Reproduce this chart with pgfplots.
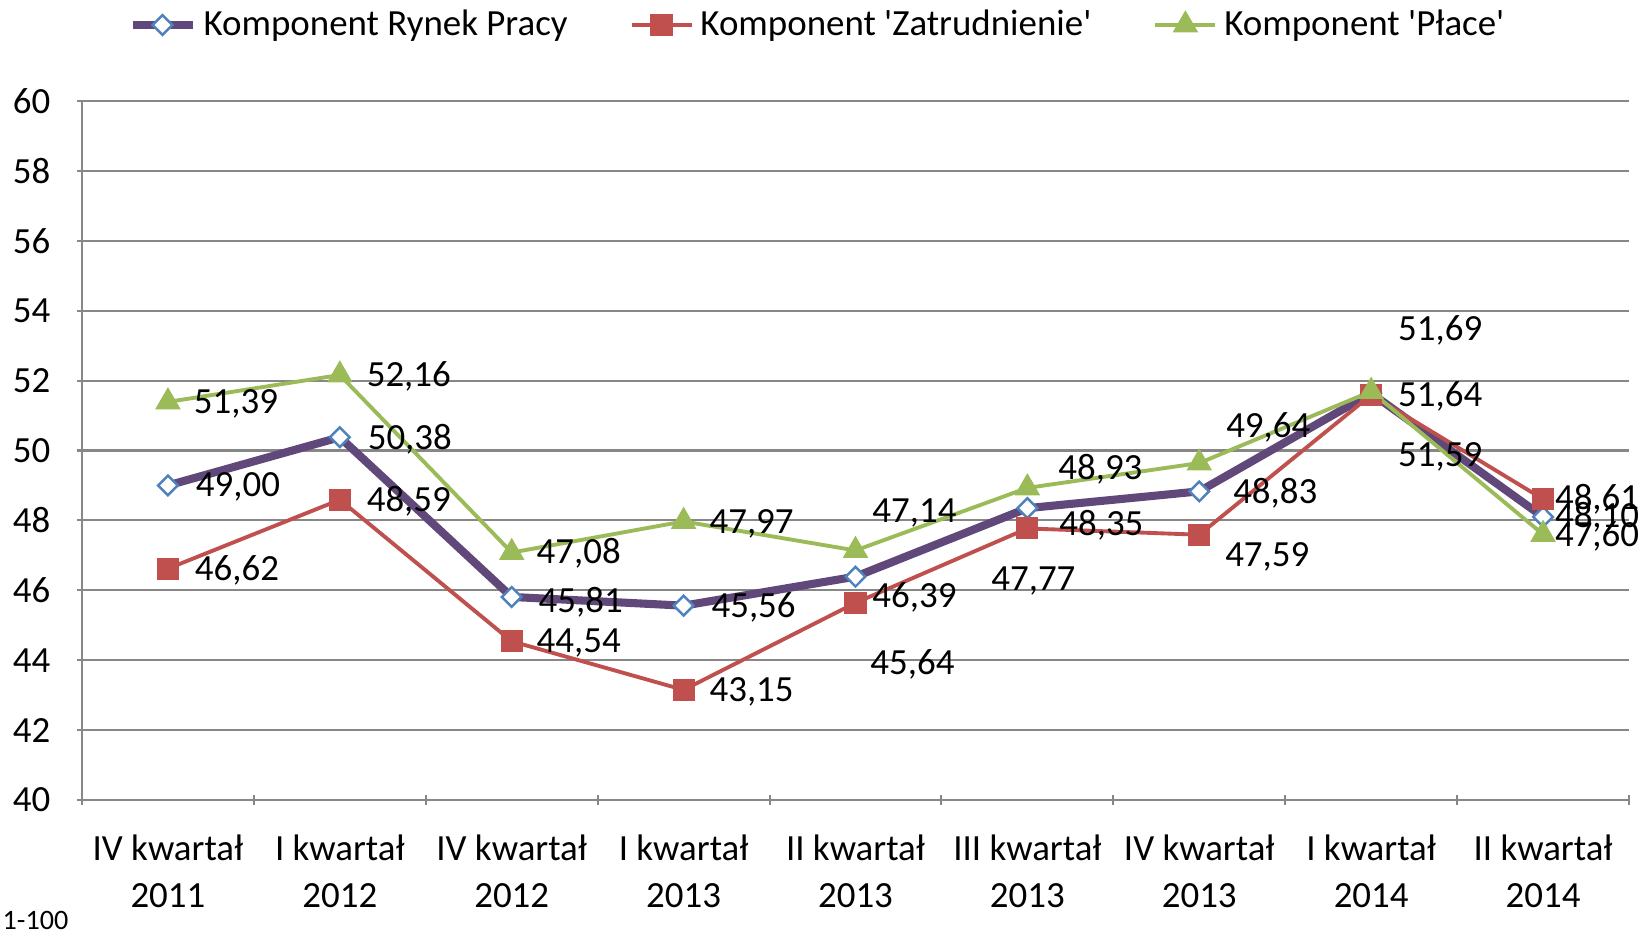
\documentclass[border=0pt]{standalone}
\usepackage{fontspec}
\setmainfont{Carlito}
\usepackage{pgfplots}
\usepackage{pgfplotstable}
\pgfplotsset{compat=1.18}
\definecolor{rynek}{HTML}{60497A}
\definecolor{diamblue}{HTML}{4F81BD}
\definecolor{zatr}{HTML}{C0504D}
\definecolor{place}{HTML}{9BBB59}
\definecolor{gridgray}{HTML}{878787}

% x  y  label offsets (cm)  label
\pgfplotstableread{
x y dx dy lbl
0 49.00 0.70 -0.01 49,00
1 50.38 0.70 -0.02 50,38
2 45.81 0.69 -0.05 45,81
3 45.56 0.70 -0.02 45,56
4 46.39 0.59 -0.21 46,39
5 48.35 0.74 -0.17 48,35
6 48.83 0.76 -0.02 48,83
7 51.64 0.69 -0.03 51,64
8 48.10 0.54 0.00 48,10
}\tabRynek

\pgfplotstableread{
x y dx dy lbl
0 46.62 0.69 -0.02 46,62
1 48.59 0.69 -0.01 48,59
2 44.54 0.67 -0.02 44,54
3 43.15 0.68 -0.02 43,15
4 45.64 0.57 -0.62 45,64
5 47.77 0.06 -0.53 47,77
6 47.59 0.68 -0.22 47,59
7 51.59 0.69 -0.62 51,59
8 48.61 0.54 0.00 48,61
}\tabZatr

\pgfplotstableread{
x y dx dy lbl
0 51.39 0.68 -0.02 51,39
1 52.16 0.69 -0.01 52,16
2 47.08 0.67 -0.01 47,08
3 47.97 0.68 -0.02 47,97
4 47.14 0.59 0.37 47,14
5 48.93 0.73 0.19 48,93
6 49.64 0.69 0.36 49,64
7 51.69 0.69 0.61 51,69
8 47.60 0.54 -0.02 47,60
}\tabPlace

\newcommand\lblfont{\fontsize{10.5}{13.5}\selectfont}

\begin{document}
\begin{tikzpicture}
\begin{axis}[
  at={(0.82cm,1.36cm)}, anchor=south west,
  scale only axis, width=15.47cm, height=6.99cm,
  xmin=-0.5, xmax=8.5, ymin=40, ymax=60,
  ytick={40,42,...,60},
  xtick={0,...,8},
  xticklabels={{IV kwartał\\2011},{I kwartał\\2012},{IV kwartał\\2012},
    {I kwartał\\2013},{II kwartał\\2013},{III kwartał\\2013},
    {IV kwartał\\2013},{I kwartał\\2014},{II kwartał\\2014}},
  minor xtick={-0.5,0.5,...,8.5},
  major x tick style={draw=none},
  tick style={gridgray, line width=0.6pt},
  major tick length=0.105cm, minor tick length=0.105cm,
  tick align=outside,
  axis x line=bottom, axis y line=left,
  axis line style={-, gridgray, line width=0.6pt},
  ymajorgrids, grid style={gridgray, line width=0.6pt},
  tick label style={font=\lblfont, /pgf/number format/assume math mode=true},
  xticklabel style={align=center, yshift=-0.17cm},
  yticklabel style={xshift=-0.14cm},
  clip=false,
  legend columns=3,
  legend style={at={(0.477,1)}, anchor=center, yshift=0.76cm, draw=none,
    fill=none, font=\lblfont, legend cell align=left,
    /tikz/every even column/.append style={column sep=0.55cm}},
  nodes near coords, point meta=explicit symbolic,
  visualization depends on={\thisrow{dx}\as\dx},
  visualization depends on={\thisrow{dy}\as\dy},
  every node near coord/.style={anchor=center, xshift=\dx cm, yshift=\dy cm,
    text=black, font=\lblfont, inner sep=0pt},
]
\addplot[color=rynek, line width=2.3pt, mark=diamond*, mark size=2.8pt,
  mark options={fill=white, draw=diamblue, line width=0.7pt, xscale=1.33}]
  table[x=x, y=y, meta=lbl] {\tabRynek};
\addlegendentry{Komponent Rynek Pracy}
\addplot[color=zatr, line width=1.1pt, mark=square*, mark size=2.6pt,
  mark options={fill=zatr, draw=zatr}]
  table[x=x, y=y, meta=lbl] {\tabZatr};
\addlegendentry{Komponent \textquotesingle Zatrudnienie\textquotesingle}
\addplot[color=place, line width=1.1pt, mark=triangle*, mark size=3.1pt,
  mark options={fill=place, draw=place}]
  table[x=x, y=y, meta=lbl] {\tabPlace};
\addlegendentry{Komponent \textquotesingle Płace\textquotesingle}
\end{axis}
\node[anchor=south west, font=\fontsize{8}{9}\selectfont, inner sep=0pt]
  at (0.02cm,0.06cm) {1-100};
\pgfresetboundingbox
\path[use as bounding box] (0,0) rectangle (16.49cm,9.36cm);
\end{tikzpicture}
\end{document}
